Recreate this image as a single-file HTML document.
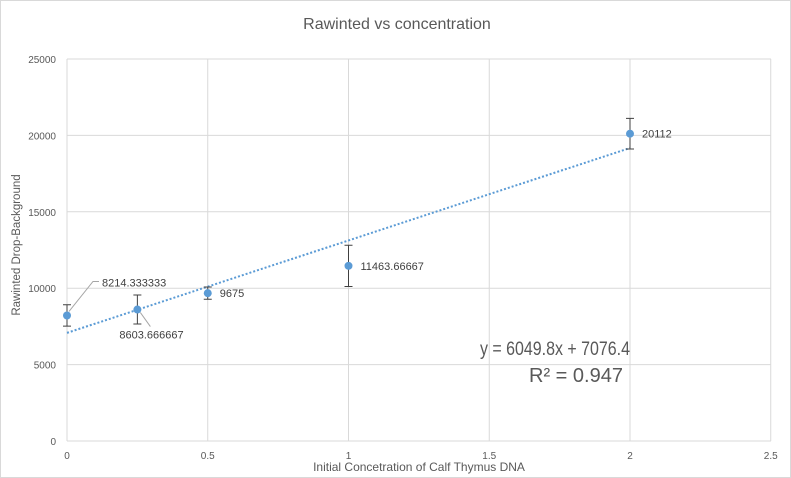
<!DOCTYPE html>
<html><head><meta charset="utf-8"><style>
html,body{margin:0;padding:0;background:#fff;}
svg{display:block;font-family:"Liberation Sans",sans-serif;}
</style></head><body>
<svg id="chart" width="791" height="478">
<rect x="0.5" y="0.5" width="790" height="477" fill="#fff" stroke="#d9d9d9"/>
<text x="397" y="29" text-anchor="middle" font-size="16" fill="#595959">Rawinted vs concentration</text>
<g id="grid"></g><g id="marks"></g>
<text x="419" y="471" text-anchor="middle" font-size="12" fill="#595959">Initial Concetration of Calf Thymus DNA</text>
<text transform="translate(20,245) rotate(-90)" text-anchor="middle" font-size="11.5" fill="#595959">Rawinted Drop-Background</text>
<text x="480" y="355" textLength="150" lengthAdjust="spacingAndGlyphs" font-size="19" fill="#595959">y = 6049.8x + 7076.4</text>
<text x="529" y="382" font-size="20" fill="#595959">R² = 0.947</text>
</svg>
<script>
const xs=[0,0.25,0.5,1,2];
const ys=[8214.333333,8603.666667,9675,11463.66667,20112];
const errs=[700,950,400,1350,1000];
const labels=["8214.333333","8603.666667","9675","11463.66667","20112"];
const xTicks=[0,0.5,1,1.5,2,2.5];
const yTicks=[0,5000,10000,15000,20000,25000];
const slope=6049.8, intercept=7076.4;
const X=v=>67+v*281.5, Y=v=>441-v*382/25000;
const NS="http://www.w3.org/2000/svg";
function mk(p,t,a){const e=document.createElementNS(NS,t);for(const k in a)e.setAttribute(k,a[k]);p.appendChild(e);return e;}
const g=document.getElementById('grid'), m=document.getElementById('marks');
yTicks.forEach(v=>{
 const l=mk(g,'line',{x1:67,x2:771,y1:Y(v),y2:Y(v),stroke:'#d9d9d9'});
 
 
 const t=mk(g,'text',{x:56,y:Y(v)+4,'text-anchor':'end','font-size':10,fill:'#595959'});t.textContent=v;
 
 
});
xTicks.forEach(v=>{
 const l=mk(g,'line',{x1:X(v),x2:X(v),y1:Y(25000),y2:Y(0),stroke:'#d9d9d9'});
 
 
 const t=mk(g,'text',{x:X(v),y:459,'text-anchor':'middle','font-size':10,fill:'#595959'});t.textContent=v;
 
 
});
const tl=mk(m,'line',{x1:X(0),y1:Y(intercept),x2:X(2),y2:Y(slope*2+intercept),stroke:'#5b9bd5','stroke-width':2,'stroke-dasharray':'2 2'});


xs.forEach((x,i)=>{
 const cx=X(x),cy=Y(ys[i]),t=Y(ys[i]+errs[i]),b=Y(ys[i]-errs[i]);
 const e=mk(m,'path',{d:`M${cx},${t}V${b}M${cx-4},${t}H${cx+4}M${cx-4},${b}H${cx+4}`,stroke:'#404040',fill:'none'});
 
 
 const c=mk(m,'circle',{cx:cx,cy:cy,r:4,fill:'#5b9bd5'});
 
 
 let lx=cx+12,ly=cy+4;
 if(i===0){lx=cx+35;ly=cy-29;mk(m,'path',{d:`M${cx+2},${cy-4}L${cx+26},${cy-34}H${cx+32}`,stroke:'#a6a6a6',fill:'none'});}
 if(i===1){lx=cx-18;ly=cy+29;mk(m,'line',{x1:cx+3,y1:cy+3,x2:cx+13,y2:cy+17,stroke:'#a6a6a6'});}
 const tx=mk(m,'text',{x:lx,y:ly,'font-size':11,fill:'#404040'});tx.textContent=labels[i];
 
 
});
</script>
</body></html>
